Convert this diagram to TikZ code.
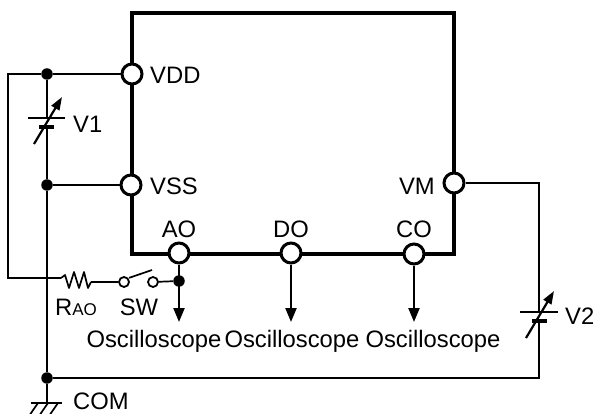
\documentclass[tikz,border=0pt]{standalone}
\usepackage{fontspec}
\setmainfont{Liberation Sans}
\usetikzlibrary{arrows.meta}
\tikzset{
    pin/.style={circle, draw, line width=3pt, fill=white, inner sep=0pt, minimum size=20pt},
    dot/.style={circle, fill=black, inner sep=0pt, minimum size=11.5pt},
    swpin/.style={circle, draw, line width=1.8pt, fill=white, inner sep=0pt, minimum size=10pt},
    wire/.style={line width=1.7pt},
    probe/.style={line width=2.2pt, -{Triangle[length=14pt,width=11pt]}},
    trim/.style={line width=2.2pt, -{Triangle[length=13pt,width=9pt]}},
    lbl/.style={font=\fontsize{23.8}{26}\selectfont, inner sep=0pt}
}
\begin{document}
\begin{tikzpicture}[x=1pt,y=-1pt]
\useasboundingbox (0,0) rectangle (597,414);
\clip (0,0) rectangle (597,414);

% Chip outline
\draw[line width=4.4pt] (132,13) rectangle (454,254);

% Pins
\node[pin] (vdd) at (132,74) {};
\node[pin] (vss) at (131,185) {};
\node[pin] (vm) at (454,183) {};
\node[pin] (ao) at (179,253) {};
\node[pin] (do) at (291,253) {};
\node[pin] (co) at (414,254) {};

% Junctions
\node[dot] (jtop) at (47,74) {};
\node[dot] (jmid) at (47,185) {};
\node[dot] (jcom) at (47,378) {};
\node[dot] (jao) at (179,281) {};
\node[swpin] (swa) at (124,282) {};
\node[swpin] (swb) at (153,282) {};

% Free ends
\coordinate (cleft) at (8,74);
\coordinate (cres) at (8,278);
\coordinate (rin) at (61,278);
\coordinate (rout) at (91,282);
\coordinate (gnd) at (47,403);
\coordinate (v1a) at (47,118);
\coordinate (v1b) at (47,127);
\coordinate (v2a) at (539,312);
\coordinate (v2b) at (539,321);
\coordinate (vmc) at (539,183);
\coordinate (comc) at (539,378);
\coordinate (aoend) at (179,322);
\coordinate (doend) at (291,322);
\coordinate (coend) at (414,322);

% Wires
\draw[wire] (vdd) -- (jtop) -- (cleft) -- (cres) -- (rin);
\draw[wire] (jtop) -- (v1a);
\draw[wire] (v1b) -- (jmid);
\draw[wire] (vss) -- (jmid) -- (jcom) -- (gnd);
\draw[wire] (vm) -- (vmc) -- (v2a);
\draw[wire] (v2b) -- (comc) -- (jcom);
\draw[wire] (rout) -- (swa);
\draw[wire] (swb) -- (jao);
\draw[wire] (swa.north east) ++(1,0) -- (152,270);

% Resistor
\draw[wire, line join=round] (rin) -- (65,275) -- (69,288) -- (74,272) -- (79,288) -- (84,272) -- (88,288) -- (rout);

% Outputs
\draw[probe] (ao) -- (aoend);
\draw[probe] (do) -- (doend);
\draw[probe] (co) -- (coend);

% Adjustable sources
\draw[wire] (28,118) -- (65,118);
\draw[line width=3.4pt] (39,127) -- (54,127);
\draw[trim] (34,144) -- (62,97);
\draw[wire] (520,312) -- (558,312);
\draw[line width=3.4pt] (532,321) -- (547,321);
\draw[trim] (526,338) -- (554,291);

% Ground
\draw[wire] (31,403) -- (62,403);
\foreach \x in {38,48,58}
    \draw[wire] (\x,403) -- (\x-9,416);

% Labels
\node[lbl, anchor=west] (lvdd) at (150,75) {VDD};
\node[lbl, anchor=west] (lvss) at (150,186) {VSS};
\node[lbl, anchor=east] (lvm) at (435,186) {VM};
\node[lbl] (lao) at (179,229) {AO};
\node[lbl] (ldo) at (291,229) {DO};
\node[lbl] (lco) at (414,229) {CO};
\node[lbl, anchor=west] (lv1) at (73,124) {V1};
\node[lbl, anchor=west] (lv2) at (565,316) {V2};
\node[lbl, anchor=west] (lrao) at (55,307) {R{\fontsize{17}{19}\selectfont AO}};
\node[lbl] (lsw) at (139,307) {SW};
\node[lbl, anchor=west] (lcom) at (73,401) {COM};
\foreach \x/\name in {154/oa, 292/ob, 433/oc}
    \node[lbl] (\name) at (\x,341) {Oscilloscope};
\end{tikzpicture}
\end{document}
